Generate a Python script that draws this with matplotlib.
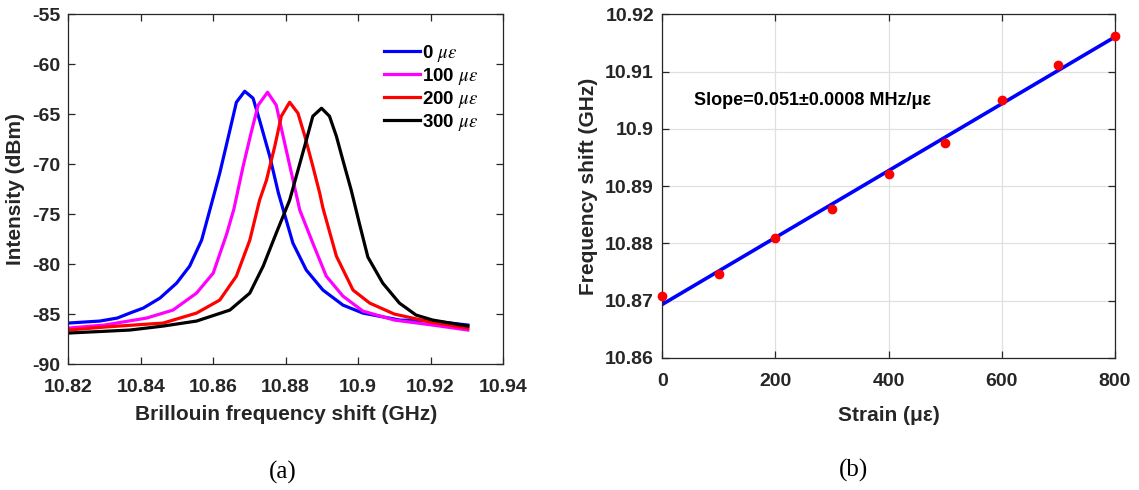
import numpy as np
import matplotlib
matplotlib.use("Agg")
import matplotlib.pyplot as plt

plt.rcParams['font.family'] = ['Liberation Sans', 'DejaVu Sans']
plt.rcParams['mathtext.fontset'] = 'stix'
plt.rcParams['axes.unicode_minus'] = False

# ---- (a) Brillouin spectra ----
f0 = [10.82, 10.8287, 10.8335, 10.837, 10.8407, 10.8453, 10.8499, 10.8535, 10.8568, 10.8595,
      10.8618, 10.8646, 10.8664, 10.8687, 10.8710, 10.8728, 10.8756, 10.878, 10.882, 10.8857,
      10.8903, 10.8958, 10.9013, 10.9115, 10.9206, 10.9303]
p0 = [-85.9, -85.7, -85.4, -84.9, -84.4, -83.4, -81.9, -80.2, -77.6, -74.0,
      -70.9, -66.6, -63.8, -62.7, -63.4, -65.6, -69.2, -72.9, -77.9, -80.6,
      -82.6, -84.1, -84.9, -85.6, -85.7, -86.1]

f100 = [10.82, 10.83, 10.8416, 10.8489, 10.8554, 10.86, 10.8637, 10.8657, 10.8682, 10.8705,
        10.8724, 10.875, 10.8774, 10.8793, 10.8816, 10.8839, 10.8875, 10.8912, 10.8958, 10.9013,
        10.91, 10.9206, 10.9303]
p100 = [-86.4, -86.1, -85.4, -84.6, -82.9, -80.9, -77.0, -74.5, -70.3, -66.8,
        -64.1, -62.8, -64.1, -67.2, -70.9, -74.6, -77.9, -81.2, -83.2, -84.7,
        -85.6, -86.1, -86.6]

f200 = [10.82, 10.83, 10.8462, 10.8554, 10.8618, 10.8664, 10.8701, 10.8728, 10.8747, 10.877,
        10.8788, 10.8811, 10.8834, 10.8853, 10.8875, 10.8894, 10.8903, 10.894, 10.8986, 10.9032,
        10.91, 10.92, 10.9303]
p200 = [-86.6, -86.3, -85.9, -84.9, -83.6, -81.2, -77.6, -73.6, -71.6, -68.2,
        -65.2, -63.8, -64.9, -67.2, -70.2, -72.9, -74.4, -79.2, -82.6, -83.9,
        -85.0, -85.8, -86.4]

f300 = [10.82, 10.837, 10.8462, 10.8554, 10.8646, 10.8701, 10.8738, 10.8774, 10.8811, 10.8834,
        10.8857, 10.8875, 10.8899, 10.8921, 10.894, 10.8958, 10.8981, 10.9004, 10.9027, 10.9068,
        10.9114, 10.916, 10.9206, 10.9303]
p300 = [-86.9, -86.6, -86.2, -85.7, -84.6, -82.9, -80.2, -76.9, -73.6, -70.6,
        -67.6, -65.2, -64.4, -65.2, -67.2, -69.6, -72.6, -76.0, -79.3, -81.9,
        -83.9, -85.1, -85.6, -86.2]

spectra_labels = ['0', '100', '200', '300']
spectra_colors = ['#0000ff', '#ff00ff', '#ff0000', '#000000']

xticks_a = [10.82, 10.84, 10.86, 10.88, 10.9, 10.92, 10.94]
xticklabels_a = ['10.82', '10.84', '10.86', '10.88', '10.9', '10.92', '10.94']
yticks_a = [-90, -85, -80, -75, -70, -65, -60, -55]

# ---- (b) strain vs frequency shift ----
strain = [0, 100, 200, 300, 400, 500, 600, 700, 800]
fshift = [10.8709, 10.8746, 10.8810, 10.8860, 10.8921, 10.8975, 10.9050, 10.9111, 10.9162]
yticks_b = [10.86, 10.87, 10.88, 10.89, 10.9, 10.91, 10.92]
yticklabels_b = ['10.86', '10.87', '10.88', '10.89', '10.9', '10.91', '10.92']
xticks_b = [0, 200, 400, 600, 800]

TC = '#262626'
fig = plt.figure(figsize=(11.39, 4.90), dpi=100)
axa = fig.add_axes([0.0600, 0.2571, 0.3816, 0.7137])
axb = fig.add_axes([0.5815, 0.2694, 0.3974, 0.7014])

for f, p, lab, c in zip([f0, f100, f200, f300], [p0, p100, p200, p300],
                        spectra_labels, spectra_colors):
    axa.plot(f, p, color=c, lw=2.3, label=lab + r' $\mu\epsilon$')

axa.set_xlim(10.82, 10.94)
axa.set_ylim(-90, -55)
axa.set_xticks(xticks_a)
axa.set_xticklabels(xticklabels_a)
axa.set_yticks(yticks_a)
axa.set_xlabel('Brillouin frequency shift (GHz)', fontsize=15, fontweight='bold', color=TC, labelpad=6)
axa.set_ylabel('Intensity (dBm)', fontsize=15, fontweight='bold', color=TC, labelpad=5)
leg = axa.legend(loc='upper left', bbox_to_anchor=(0.726, 0.918), frameon=False,
                 borderpad=0, borderaxespad=0,
                 handlelength=1.9, handletextpad=0.12, labelspacing=0.1,
                 prop={'weight': 'bold', 'size': 13.5})

axb.plot(strain, fshift, 'o', color='#ff0000', ms=6, zorder=3, clip_on=False)
coef = np.polyfit(strain, fshift, 1)
xl = np.array([strain[0], strain[-1]])
axb.plot(xl, np.polyval(coef, xl), color='#0000ff', lw=2.6, zorder=2)
axb.set_xlim(0, 800)
axb.set_ylim(10.86, 10.92)
axb.set_xticks(xticks_b)
axb.set_yticks(yticks_b)
axb.set_yticklabels(yticklabels_b)
axb.grid(True, color='#e0e0e0', lw=0.9)
axb.set_axisbelow(True)
axb.set_xlabel('Strain (\u03bc\u03b5)', fontsize=15, fontweight='bold', color=TC, labelpad=11)
axb.set_ylabel('Frequency shift (GHz)', fontsize=15, fontweight='bold', color=TC, labelpad=5)
axb.text(56, 10.905, 'Slope=0.051\u00b10.0008 MHz/\u03bc\u03b5', fontsize=13,
         fontweight='bold', color='black', ha='left', va='center')

for ax in (axa, axb):
    ax.tick_params(direction='in', top=True, right=True, length=5, width=0.9,
                   labelsize=14, colors=TC)
    ax.tick_params(axis='x', pad=11)
    ax.tick_params(axis='y', pad=6)
    for lab in ax.get_xticklabels() + ax.get_yticklabels():
        lab.set_fontweight('bold')
    for s in ax.spines.values():
        s.set_color(TC)
        s.set_linewidth(0.9)

fig.text(283 / 1139, 1 - 472 / 490, '(a)', fontsize=18, family='Liberation Serif',
         ha='center', va='center')
fig.text(854 / 1139, 1 - 470 / 490, '(b)', fontsize=18, family='Liberation Serif',
         ha='center', va='center')

fig.savefig('out.png', dpi=100)
